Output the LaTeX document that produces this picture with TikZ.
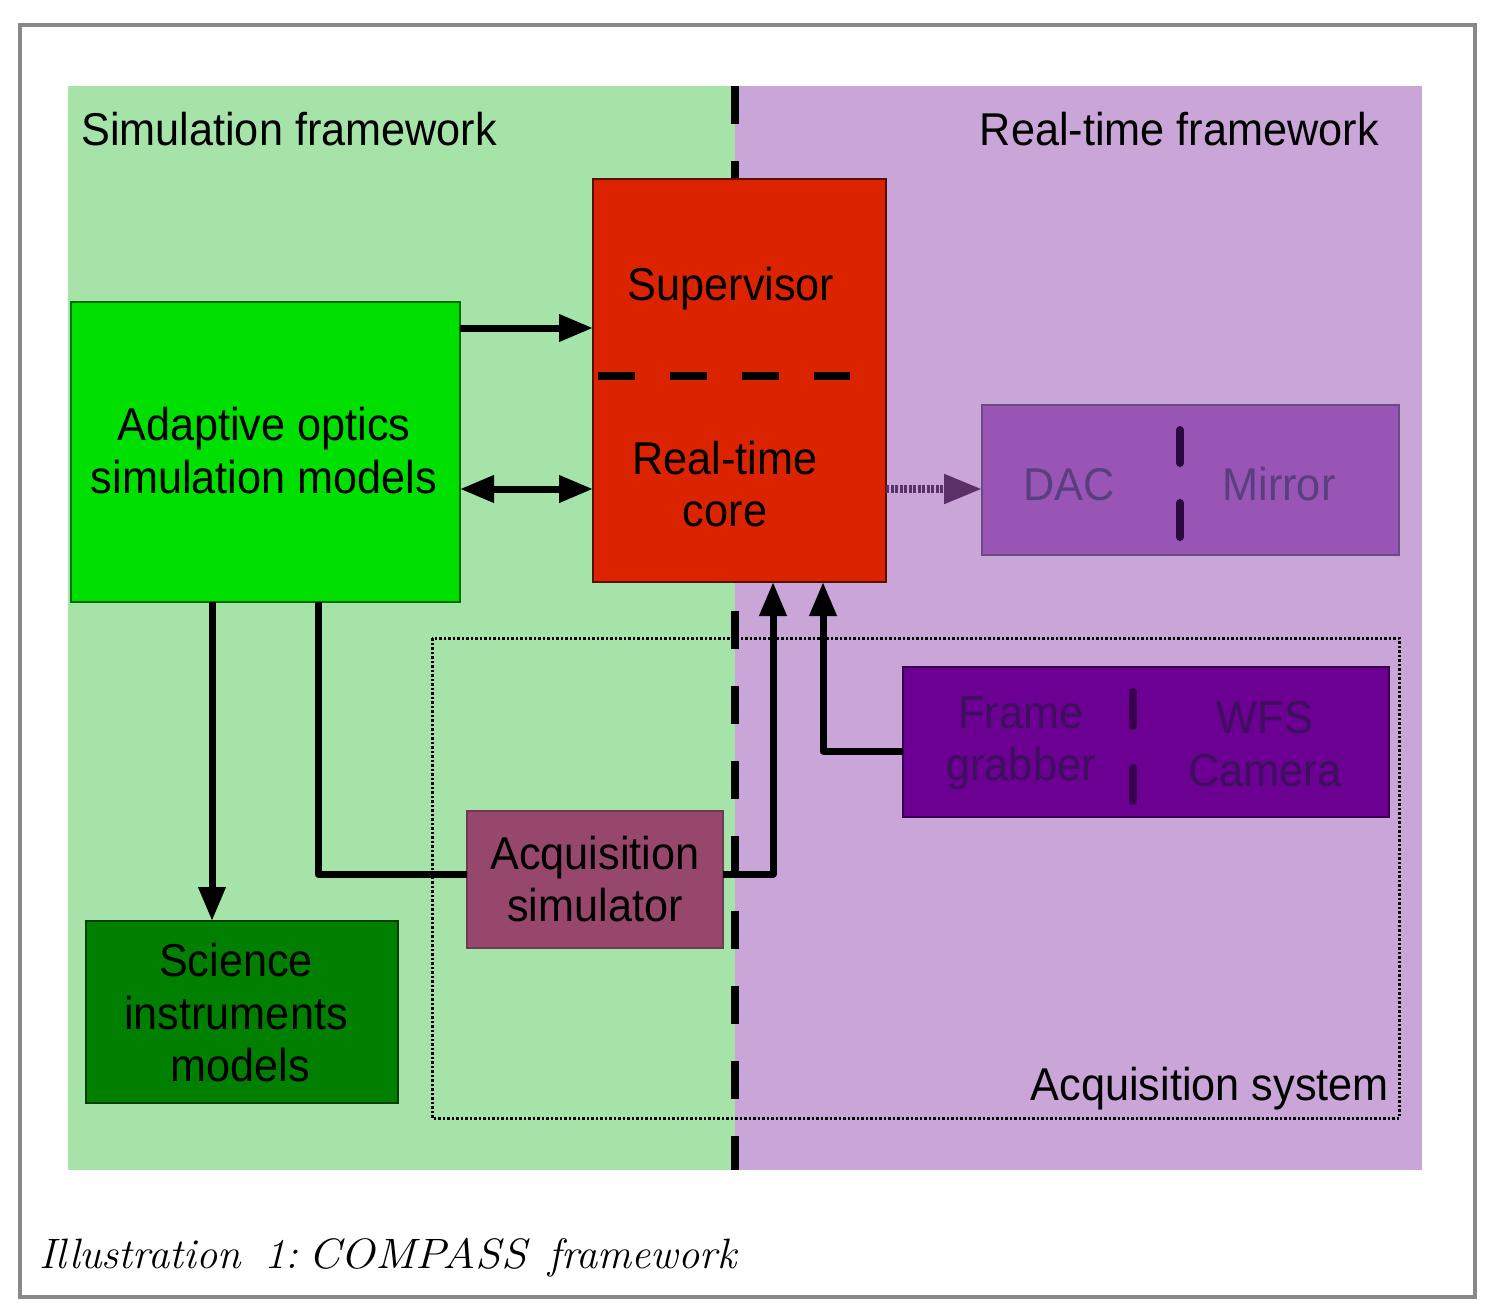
\documentclass[tikz,border=0pt]{standalone}
\usepackage{fontspec}
\usetikzlibrary{arrows.meta,calc}
\newfontfamily\af[FakeStretch=0.94]{Liberation Sans}
\definecolor{simbg}{HTML}{A6E3A8}
\definecolor{rtbg}{HTML}{C9A5D8}
\definecolor{aofill}{HTML}{00E000}
\definecolor{aoline}{HTML}{007000}
\definecolor{rtcfill}{HTML}{DC2300}
\definecolor{rtcline}{HTML}{5A1000}
\definecolor{dacfill}{HTML}{9955B5}
\definecolor{dacline}{HTML}{6B4A85}
\definecolor{dactext}{HTML}{5A3F80}
\definecolor{dacdash}{HTML}{2A0840}
\definecolor{fgfill}{HTML}{6B0092}
\definecolor{fgline}{HTML}{3A0050}
\definecolor{fgtext}{HTML}{3E0F5E}
\definecolor{acqfill}{HTML}{96476B}
\definecolor{acqline}{HTML}{6E3A55}
\definecolor{scifill}{HTML}{007F00}
\definecolor{sciline}{HTML}{004000}
\definecolor{dotarr}{HTML}{5A3068}
\definecolor{framegrey}{HTML}{888888}
\tikzset{
  box/.style={draw, line width=1.5pt, inner sep=0pt, outer sep=0pt},
  lbl/.style={font=\af\fontsize{46}{53}\selectfont, inner sep=0pt, anchor=base, align=center},
  conn/.style={line width=7pt, line join=round},
  arr/.style={conn, -{Triangle[length=34pt,width=26pt]}},
  darr/.style={conn, {Triangle[length=34pt,width=26pt]}-{Triangle[length=34pt,width=26pt]}},
}
\begin{document}
\begin{tikzpicture}[x=1pt,y=-1pt]
\useasboundingbox (0,0) rectangle (1505,1311);
% outer frame
\draw[framegrey, line width=4pt] (20,25) rectangle (1475,1297);
% backgrounds
\fill[simbg] (68,86) rectangle (735,1170);
\fill[rtbg] (735,86) rectangle (1422,1170);
% separating dashed line
\draw[line width=8pt, dash pattern=on 38pt off 37pt] (735,86) -- (735,1170);
% acquisition system
\draw[line width=3pt, dash pattern=on 2.5pt off 2pt] (432,638) rectangle (1399,1118);
\node[lbl, anchor=base east] (acqsyslbl) at (1389,1100) {Acquisition system};
% region titles
\node[lbl, anchor=base west] (simlbl) at (81,146) {Simulation framework};
\node[lbl, anchor=base east] (rtlbl) at (1379,146) {Real-time framework};
% boxes
\node[box, fill=aofill, draw=aoline, minimum width=389pt, minimum height=300pt] (adapt) at (265.5,452) {};
\node[box, fill=rtcfill, draw=rtcline, minimum width=293pt, minimum height=403pt] (rtc) at (739.5,380.5) {};
\node[box, fill=dacfill, draw=dacline, minimum width=417pt, minimum height=150pt] (dac) at (1190.5,480) {};
\node[box, fill=fgfill, draw=fgline, minimum width=486pt, minimum height=150pt] (fg) at (1146,742) {};
\node[box, fill=acqfill, draw=acqline, minimum width=256pt, minimum height=137pt] (acq) at (595,879.5) {};
\node[box, fill=scifill, draw=sciline, minimum width=312pt, minimum height=182pt] (sci) at (242,1012) {};
% texts in boxes
\node[lbl] (aot1) at (264,440) {Adaptive optics};
\node[lbl] (aot2) at (264,493) {simulation models};
\node[lbl] (supt) at (731,300) {Supervisor};
\node[lbl] (rtct1) at (725,474) {Real-time};
\node[lbl] (rtct2) at (725,526) {core};
\draw[line width=8pt, dash pattern=on 37pt off 35pt] (rtc.west |- 0,376) ++(5,0) coordinate (rtd1) -- (850,376) coordinate (rtd2);
\node[lbl, text=dactext] (dact) at (1069,500) {DAC};
\node[lbl, text=dactext] (mirt) at (1279,500) {Mirror};
\draw[dacdash, line width=8pt, line cap=round] (1180,430) coordinate (dd1) -- (1180,463) coordinate (dd2);
\draw[dacdash, line width=8pt, line cap=round] (1180,503) coordinate (dd3) -- (1180,537) coordinate (dd4);
\node[lbl, text=fgtext] (fgt1) at (1021,728) {Frame};
\node[lbl, text=fgtext] (fgt2) at (1021,780) {grabber};
\node[lbl, text=fgtext] (wfst1) at (1265,733) {WFS};
\node[lbl, text=fgtext] (wfst2) at (1265,786) {Camera};
\draw[fgline, line width=8pt, line cap=round] (1133,692) coordinate (fd1) -- (1133,726) coordinate (fd2);
\draw[fgline, line width=8pt, line cap=round] (1133,768) coordinate (fd3) -- (1133,801) coordinate (fd4);
\node[lbl] (acqt1) at (595,869) {Acquisition};
\node[lbl] (acqt2) at (595,921) {simulator};
\node[lbl] (scit1) at (236,976) {Science};
\node[lbl] (scit2) at (236,1029) {instruments};
\node[lbl] (scit3) at (240,1081) {models};
% connectors
\draw[arr] (adapt.east |- 0,328) -- (rtc.west |- 0,328);
\draw[darr] (adapt.east |- 0,489) -- (rtc.west |- 0,489);
\draw[dotarr, line width=8pt, dash pattern=on 3pt off 1.5pt, -{Triangle[length=38pt,width=28pt]}] (rtc.east |- 0,489) -- (dac.west |- 0,489);
\draw[arr] (adapt.south -| 212,0) -- (sci.north -| 212,0);
\draw[conn] (adapt.south -| 318,0) |- (acq.west |- 0,874);
\draw[arr] (acq.east |- 0,874) -| (rtc.south -| 773,0);
\draw[arr] (fg.west |- 0,751) -| (rtc.south -| 823,0);
% caption
\node[font=\fontsize{42.5}{50}\selectfont\itshape, anchor=base west, inner sep=0pt] (cap) at (39,1268) {Illustration\hspace{24pt}1:\hspace{10pt}\scalebox{1.08}[1]{COMPASS}\hspace{22pt}framework};
\end{tikzpicture}
\end{document}
